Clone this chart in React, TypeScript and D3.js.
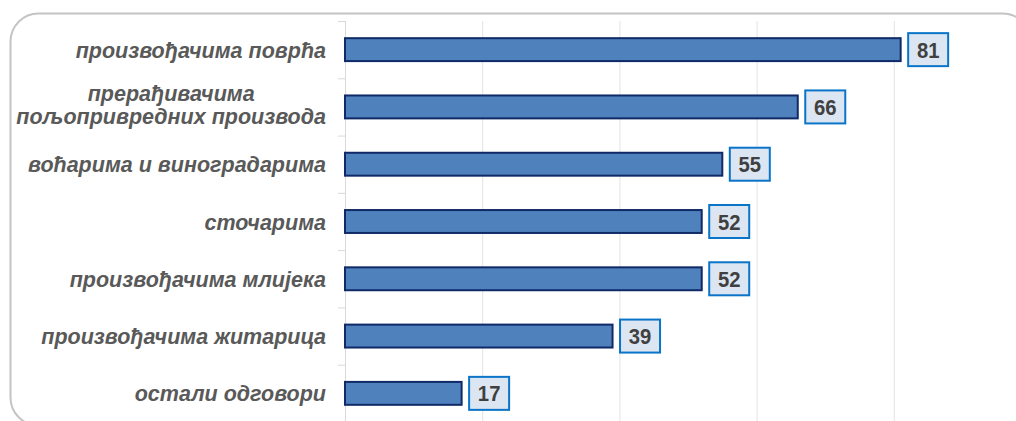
import { useEffect, useRef } from 'react'
import * as d3 from 'd3'

// categories, top to bottom (\n marks a line break in the label)
const categories = [
  'произвођачима поврћа',
  'прерађивачима\nпољопривредних производа',
  'воћарима и виноградарима',
  'сточарима',
  'произвођачима млијека',
  'произвођачима житарица',
  'остали одговори',
]
const values = [81, 66, 55, 52, 52, 39, 17]
const xTicks = [0, 20, 40, 60, 80, 100]

const W = 1016
const H = 421
const plot = { left: 345, top: 21, right: 1031, bottom: 422 }

const App = () => {
  const svgRef = useRef<SVGSVGElement | null>(null)

  useEffect(() => {
    if (!svgRef.current) return
    const svg = d3.select(svgRef.current)
    svg.selectAll('*').remove()

    // frame
    svg.append('rect')
      .attr('x', 10.5)
      .attr('y', 13.5)
      .attr('width', 1020)
      .attr('height', 412)
      .attr('rx', 28)
      .attr('fill', '#fff')
      .attr('stroke', '#c4c4c4')
      .attr('stroke-width', 2)

    const x = d3.scaleLinear()
      .domain([0, 100])
      .range([plot.left, plot.right])

    const y = d3.scaleBand<string>()
      .domain(categories)
      .range([plot.top, plot.bottom])
      .paddingInner(0.6)
      .paddingOuter(0.3)

    const band = d3.scaleBand<string>()
      .domain(categories)
      .range([plot.top, plot.bottom])

    // grid lines
    svg.append('g')
      .selectAll('line')
      .data(xTicks.slice(1))
      .enter()
      .append('line')
      .attr('x1', d => x(d) + 0.5)
      .attr('x2', d => x(d) + 0.5)
      .attr('y1', plot.top)
      .attr('y2', plot.bottom)
      .attr('stroke', '#e3e3e3')
      .attr('stroke-width', 1)

    // y axis with outer ticks between bands
    const yAxis = svg.append('g')
    yAxis.append('line')
      .attr('x1', plot.left + 0.5)
      .attr('x2', plot.left + 0.5)
      .attr('y1', plot.top)
      .attr('y2', plot.bottom)
      .attr('stroke', '#d9d9d9')
    yAxis.selectAll('line.tick')
      .data(categories)
      .enter()
      .append('line')
      .attr('class', 'tick')
      .attr('x1', plot.left - 7)
      .attr('x2', plot.left)
      .attr('y1', d => (band(d) as number) + 0.5)
      .attr('y2', d => (band(d) as number) + 0.5)
      .attr('stroke', '#d9d9d9')

    // bars
    svg.append('g')
      .selectAll('rect')
      .data(values)
      .enter()
      .append('rect')
      .attr('x', x(0))
      .attr('y', (_, i) => y(categories[i]) as number)
      .attr('width', d => x(d) - x(0))
      .attr('height', y.bandwidth())
      .attr('fill', '#4f81bd')
      .attr('stroke', '#0f2a66')
      .attr('stroke-width', 2)

    // category labels (multi-line ones are centred on the longest line)
    const labels = svg.append('g')
      .attr('font-family', '"Liberation Sans", Arial, sans-serif')
      .attr('font-size', 21.5)
      .attr('font-weight', 'bold')
      .attr('font-style', 'italic')
      .attr('fill', '#595959')
    categories.forEach(cat => {
      const lines = cat.split('\n')
      const cy = (band(cat) as number) + band.bandwidth() / 2
      const t = labels.append('text')
        .attr('text-anchor', 'end')
        .attr('x', 326)
      lines.forEach((ln, j) => {
        t.append('tspan')
          .attr('x', 326)
          .attr('y', cy + 8 + (j - (lines.length - 1) / 2) * 23 - (lines.length > 1 ? 2 : 0))
          .text(ln)
      })
      if (lines.length > 1) {
        const spans = t.selectAll<SVGTSpanElement, unknown>('tspan').nodes()
        const widths = spans.map(s => s.getComputedTextLength())
        const maxW = d3.max(widths) || 0
        spans.forEach(s => {
          d3.select(s).attr('text-anchor', 'middle').attr('x', 326 - maxW / 2)
        })
        t.attr('text-anchor', 'middle')
      }
    })

    // value boxes
    const boxes = svg.append('g')
      .selectAll('g')
      .data(values)
      .enter()
      .append('g')
      .attr('transform', (d, i) => `translate(${x(d) + 7},${(y(categories[i]) as number) + y.bandwidth() / 2 - 17})`)
    boxes.append('rect')
      .attr('x', 0.5)
      .attr('y', 0.5)
      .attr('width', 40)
      .attr('height', 33)
      .attr('fill', '#dce6f2')
      .attr('stroke', '#0a74c8')
      .attr('stroke-width', 2)
    // narrow digits: Arial bold squeezed horizontally
    boxes.append('text')
      .attr('transform', 'translate(20.5,25) scale(0.9,1)')
      .attr('text-anchor', 'middle')
      .attr('font-family', '"Liberation Sans", Arial, sans-serif')
      .attr('font-size', 22.5)
      .attr('font-weight', 'bold')
      .attr('fill', '#404040')
      .text(d => d)
  }, [])

  return (
    <div style={{ position: 'absolute', left: 0, top: 0, width: W, height: H, overflow: 'hidden' }}>
      <svg ref={svgRef} width={W} height={H} style={{ display: 'block' }} />
    </div>
  )
}

export default App
